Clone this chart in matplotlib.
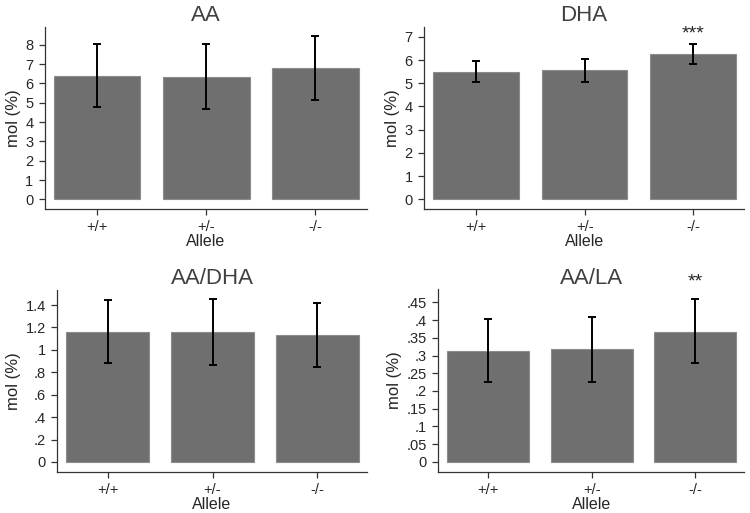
import matplotlib
matplotlib.use("Agg")
import matplotlib.pyplot as plt
from matplotlib.ticker import FuncFormatter
import numpy as np

plt.rcParams['font.family'] = ['Liberation Sans', 'DejaVu Sans']

alleles = ["+/+", "+/-", "-/-"]

titles = ["AA", "DHA", "AA/DHA", "AA/LA"]

aa_mean = [6.37, 6.32, 6.80]
aa_lo = [4.77, 4.68, 5.16]
aa_hi = [8.03, 8.03, 8.45]

dha_mean = [5.50, 5.56, 6.25]
dha_lo = [5.04, 5.07, 5.82]
dha_hi = [5.96, 6.03, 6.69]

aadha_mean = [1.157, 1.157, 1.133]
aadha_lo = [0.880, 0.865, 0.847]
aadha_hi = [1.448, 1.456, 1.421]

aala_mean = [0.314, 0.318, 0.367]
aala_lo = [0.224, 0.226, 0.280]
aala_hi = [0.404, 0.410, 0.460]

yticks = [
    [0, 1, 2, 3, 4, 5, 6, 7, 8],
    [0, 1, 2, 3, 4, 5, 6, 7],
    [0, 0.2, 0.4, 0.6, 0.8, 1.0, 1.2, 1.4],
    [0, 0.05, 0.1, 0.15, 0.2, 0.25, 0.3, 0.35, 0.4, 0.45],
]
ylims = [(-0.5, 8.94), (-0.42, 7.44), (-0.087, 1.534), (-0.028, 0.487)]

# significance marks: (panel, bar, label, y)
stars = [(1, 2, "***", 7.12), (3, 2, "**", 0.508)]

means = [aa_mean, dha_mean, aadha_mean, aala_mean]
lows = [aa_lo, dha_lo, aadha_lo, aala_lo]
highs = [aa_hi, dha_hi, aadha_hi, aala_hi]

# axes rectangles in figure fractions
rects = [
    [0.060, 0.5926, 0.429, 0.3554],
    [0.5657, 0.5926, 0.4263, 0.3554],
    [0.0764, 0.0805, 0.4125, 0.3542],
    [0.5844, 0.0805, 0.4076, 0.3556],
]

txt = "#262626"


def fmt(v, pos):
    s = f"{v:.2f}".rstrip("0").rstrip(".")
    if s.startswith("0."):
        s = s[1:]
    return s


fig = plt.figure(figsize=(7.5, 5.13), dpi=100)
x = np.arange(3)
for i in range(4):
    ax = fig.add_axes(rects[i])
    m = np.array(means[i])
    err = [m - np.array(lows[i]), np.array(highs[i]) - m]
    ax.bar(x, m, width=0.79, color="#6f6f6f", edgecolor="#8c8c8c", linewidth=0.8)
    ax.errorbar(x, m, yerr=err, fmt="none", ecolor="black", elinewidth=1.4,
                capsize=3, capthick=1.4)
    ax.set_xlim(-0.48, 2.47)
    ax.set_ylim(*ylims[i])
    ax.set_yticks(yticks[i])
    ax.yaxis.set_major_formatter(FuncFormatter(fmt))
    ax.set_xticks(x)
    ax.set_xticklabels(alleles)
    for s in ["top", "right"]:
        ax.spines[s].set_visible(False)
    for s in ["left", "bottom"]:
        ax.spines[s].set_color("#333333")
        ax.spines[s].set_linewidth(0.9)
    ax.tick_params(axis="both", direction="out", length=4.3, width=0.9,
                   colors="#333333", labelcolor=txt, labelsize=10.5)
    ax.tick_params(axis="x", pad=3.5)
    ax.tick_params(axis="y", pad=4)
    ax.set_ylabel("mol (%)", fontsize=12, color=txt, labelpad=3)
    ax.set_xlabel("Allele", fontsize=11.5, color=txt)
    h = rects[i][3] * 513
    ax.xaxis.set_label_coords(0.5, -33.0 / h)
    ax.xaxis.label.set_va("center")
    ax.set_title(titles[i], fontsize=16, color="#404040", pad=4)
    for p, b, lab, yv in stars:
        if p == i:
            ax.text(x[b], yv, lab, ha="center", va="center", fontsize=14,
                    color=txt, clip_on=False)

fig.savefig("out.png", dpi=100)
